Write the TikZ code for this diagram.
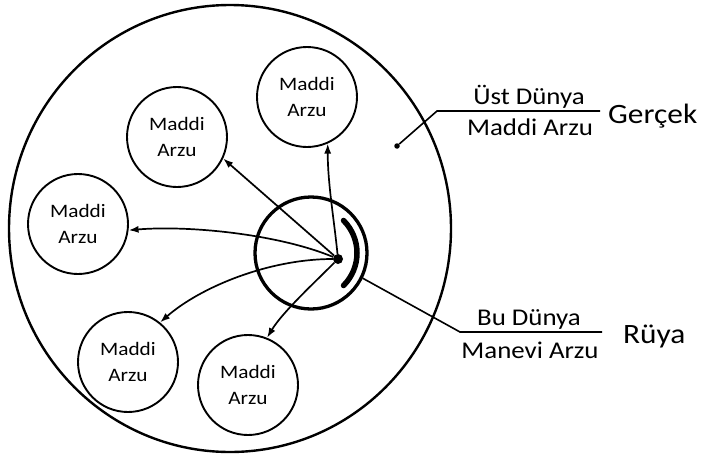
\documentclass[tikz,border=0pt]{standalone}
\usepackage{fontspec}
\setmainfont{Carlito}[FakeStretch=1.12]
\usetikzlibrary{arrows.meta,shapes.geometric}
\tikzset{
  mcirc/.style={circle,draw,line width=1.9pt,minimum size=100pt,inner sep=0pt,align=center,font=\fontsize{19}{26}\selectfont},
  lbl/.style={inner sep=0pt,anchor=base,font=\fontsize{24}{28}\selectfont},
  biglbl/.style={inner sep=0pt,anchor=base west,font=\fontsize{28}{32}\selectfont},
  arr/.style={line width=1.7pt,-{Latex[length=10pt,width=7pt]}},
  leader/.style={line width=1.6pt},
}
\begin{document}
\begin{tikzpicture}[x=1pt,y=-1pt]
\useasboundingbox (0,0) rectangle (703,455);
% outer world
\node[ellipse,draw,line width=2.4pt,minimum width=442pt,minimum height=447pt,inner sep=0pt] (outer) at (230,228.5) {};
% central ring
\node[circle,draw,line width=3.3pt,minimum size=112pt,inner sep=0pt] (ring) at (311,253) {};
\node[circle,fill,minimum size=10pt,inner sep=0pt] (dot) at (338,259) {};
\draw[line width=5.5pt,line cap=round] (ring.center) ++(-45:46pt) arc[start angle=-45,end angle=45,radius=46pt];
% desire circles
\node[mcirc] (c1) at (307,97) {Maddi\\Arzu};
\node[mcirc] (c2) at (177,137) {Maddi\\Arzu};
\node[mcirc] (c3) at (78,224) {Maddi\\Arzu};
\node[mcirc] (c4) at (128,362) {Maddi\\Arzu};
\node[mcirc] (c5) at (248,385) {Maddi\\Arzu};
% arrows
\draw[arr] (dot) .. controls +(-4,-40) and +(0,40) .. (c1.-66);
\draw[arr] (dot) -- (c2.-25);
\draw[arr] (dot) .. controls +(-60,-25) and +(60,-5) .. (c3.-7);
\draw[arr] (dot) .. controls +(-70,0) and +(40,-35) .. (c4.51);
\draw[arr] (dot) .. controls +(-25,25) and +(15,-25) .. (c5.68);
% Gercek label
\node[circle,fill,minimum size=5.5pt,inner sep=0pt] (gdot) at (397,146) {};
\coordinate (gk) at (437,111);
\coordinate (ge) at (600,111);
\draw[leader] (gdot) -- (gk) -- (ge);
\node[lbl] (ust) at (529,104) {Üst Dünya};
\node[lbl] (mad) at (530,135) {Maddi Arzu};
\node[biglbl] (ger) at (608,123) {Gerçek};
% Ruya label
\coordinate (rk) at (460,332);
\coordinate (re) at (602,332);
\draw[leader] (ring.-26) -- (rk) -- (re);
\node[lbl] (bu) at (529,325) {Bu Dünya};
\node[lbl] (man) at (530,358) {Manevi Arzu};
\node[biglbl] (ruya) at (623,343) {Rüya};
\end{tikzpicture}
\end{document}
